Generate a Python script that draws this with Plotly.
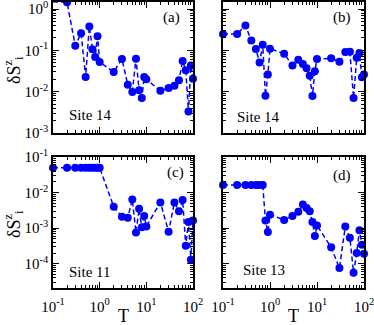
import plotly.graph_objects as go

W, H = 374, 325

T = [0.1, 0.2, 0.3, 0.4, 0.5, 0.6, 0.7, 0.8, 0.9,
     1, 2, 3, 4, 5, 6, 7, 8, 9,
     10, 20, 30, 40, 50, 60, 70, 80, 90, 100]

site_a = [1.5, 1.45, 0.13, 0.26, 0.0227, 0.38, 0.107, 0.069, 0.22,
          0.052, 0.030, 0.062, 0.0148, 0.0098, 0.063, 0.0108, 0.0070, 0.0227,
          0.020, 0.0105, 0.0122, 0.014, 0.0188, 0.055, 0.033, 0.0033, 0.043, 0.0206]

site_b = [0.248, 0.248, 0.40, 0.174, 0.108, 0.051, 0.137, 0.0080, 0.026,
          0.11, 0.083, 0.043, 0.059, 0.047, 0.037, 0.0244, 0.0079, 0.031,
          0.062, 0.064, 0.053, 0.091, 0.093, 0.0070, 0.066, 0.086, 0.0224, 0.026]

site_c = [0.05, 0.05, 0.05, 0.05, 0.05, 0.05, 0.05, 0.05, 0.05,
          0.05, 0.0040, 0.0021, 0.00195, 0.0064, 0.00076, 0.0035, 0.00107, 0.0022,
          0.00112, 0.0053, 0.0008, 0.0053, 0.0030, 0.0062, 0.00032, 0.0015, 0.00013, 0.00165]

site_d = [0.0163, 0.0163, 0.0163, 0.0163, 0.0163, 0.0163, 0.0163, 0.00165, 0.00078,
          0.0024, 0.0017, 0.0022, 0.0029, 0.0046, 0.0037, 0.0030, 0.0015, 0.0006,
          0.0012, 0.00029, 0.000076, 0.00112, 0.00054, 0.000056, 0.0002, 0.00088, 0.00034, 0.00019]

panel_letters = ["(a)", "(b)", "(c)", "(d)"]
site_labels = ["Site 14", "Site 14", "Site 11", "Site 13"]

x_tickvals = [0.1, 1, 10, 100]
x_ticktext = ["10<sup>-1</sup>", "10<sup>0</sup>", "10<sup>1</sup>", "10<sup>2</sup>"]
y_top_tickvals = [0.001, 0.01, 0.1, 1]
y_top_ticktext = ["10<sup>-3</sup>", "10<sup>-2</sup>", "10<sup>-1</sup>", "10<sup>0</sup>"]
y_bot_tickvals = [0.0001, 0.001, 0.01, 0.1]
y_bot_ticktext = ["10<sup>-4</sup>", "10<sup>-3</sup>", "10<sup>-2</sup>", "10<sup>-1</sup>"]

FONT = "Liberation Serif"
BLUE = "#0000ff"


def minor_vals(e0, e1):
    return [m * 10.0 ** e for e in range(e0, e1) for m in range(2, 10)]


def px_x(p):
    return p / W


def px_y(p):
    return 1 - p / H


# panel pixel boxes
LX = (53, 193)
RX = (223, 364)
TY = (2, 133)
BY = (157, 288)

fig = go.Figure()

series = [site_a, site_b, site_c, site_d]
for i, s in enumerate(series):
    k = "" if i == 0 else str(i + 1)
    fig.add_trace(go.Scatter(
        x=T, y=s, mode="lines+markers",
        xaxis="x" + k, yaxis="y" + k,
        line=dict(color=BLUE, width=1.5, dash="5px,3px"),
        marker=dict(color=BLUE, size=8, symbol="circle"),
        cliponaxis=False, showlegend=False,
    ))

axis_common = dict(
    type="log", showline=True, linecolor="black", linewidth=1.5,
    mirror="ticks", ticks="inside", ticklen=6, tickwidth=1.2, tickcolor="black",
    showgrid=False, zeroline=False, tickmode="array", automargin=False,
    ticklabeloverflow="allow",
    tickfont=dict(family=FONT, size=15, color="black"),
)

layout = dict(
    width=W, height=H, margin=dict(l=0, r=0, t=0, b=0, autoexpand=False),
    paper_bgcolor="white", plot_bgcolor="white",
    font=dict(family=FONT, color="black"),
)

boxes = [(LX, TY), (RX, TY), (LX, BY), (RX, BY)]
for i, (bx, by) in enumerate(boxes):
    k = "" if i == 0 else str(i + 1)
    top = i < 2
    left = i % 2 == 0
    xa = dict(axis_common)
    xa.update(
        domain=[px_x(bx[0]), px_x(bx[1])], range=[-1, 2],
        anchor="y" + k, tickvals=x_tickvals, ticktext=x_ticktext,
        showticklabels=not top, ticklabelstandoff=4,
        minor=dict(ticks="inside", ticklen=3, tickwidth=1, tickcolor="black",
                   tickmode="array", tickvals=minor_vals(-1, 2), showgrid=False),
    )
    ya = dict(axis_common)
    if top:
        yr = [-3, 0.17]
        tv, tt = y_top_tickvals, y_top_ticktext
        mv = minor_vals(-3, 1)
    else:
        yr = [-4.68, -1.0]
        tv, tt = y_bot_tickvals, y_bot_ticktext
        mv = minor_vals(-5, -1)
    ya.update(
        domain=[px_y(by[1]), px_y(by[0])], range=yr,
        anchor="x" + k, tickvals=tv, ticktext=tt,
        showticklabels=left,
        minor=dict(ticks="inside", ticklen=3, tickwidth=1, tickcolor="black",
                   tickmode="array", tickvals=mv, showgrid=False),
    )
    layout["xaxis" + k] = xa
    layout["yaxis" + k] = ya

fig.update_layout(**layout)

# panel letters and site labels
letter_pos = [(171, 18), (342, 18), (175, 173), (342, 175)]
site_pos = [(90, 115), (258, 117), (90, 272), (264, 270)]
for i in range(4):
    fig.add_annotation(x=px_x(letter_pos[i][0]), y=px_y(letter_pos[i][1]),
                       xref="paper", yref="paper", text=panel_letters[i],
                       showarrow=False, font=dict(family=FONT, size=15, color="black"),
                       xanchor="center", yanchor="middle")
    fig.add_annotation(x=px_x(site_pos[i][0]), y=px_y(site_pos[i][1]),
                       xref="paper", yref="paper", text=site_labels[i],
                       showarrow=False, font=dict(family=FONT, size=15, color="black"),
                       xanchor="center", yanchor="middle")

# axis titles
ylab = "δS<sup>z</sup><sub>i</sub>"
for yc in (70, 224):
    fig.add_annotation(x=px_x(13), y=px_y(yc), xref="paper", yref="paper",
                       text=ylab, textangle=-90, showarrow=False,
                       font=dict(family=FONT, size=18, color="black"),
                       xanchor="center", yanchor="middle")
for xc in (123, 293):
    fig.add_annotation(x=px_x(xc), y=px_y(316), xref="paper", yref="paper",
                       text="T", showarrow=False,
                       font=dict(family=FONT, size=18, color="black"),
                       xanchor="center", yanchor="middle")

fig.write_html("out.html", config={"displayModeBar": False},
               post_script="document.body.style.margin='0';document.body.style.overflow='hidden';")
